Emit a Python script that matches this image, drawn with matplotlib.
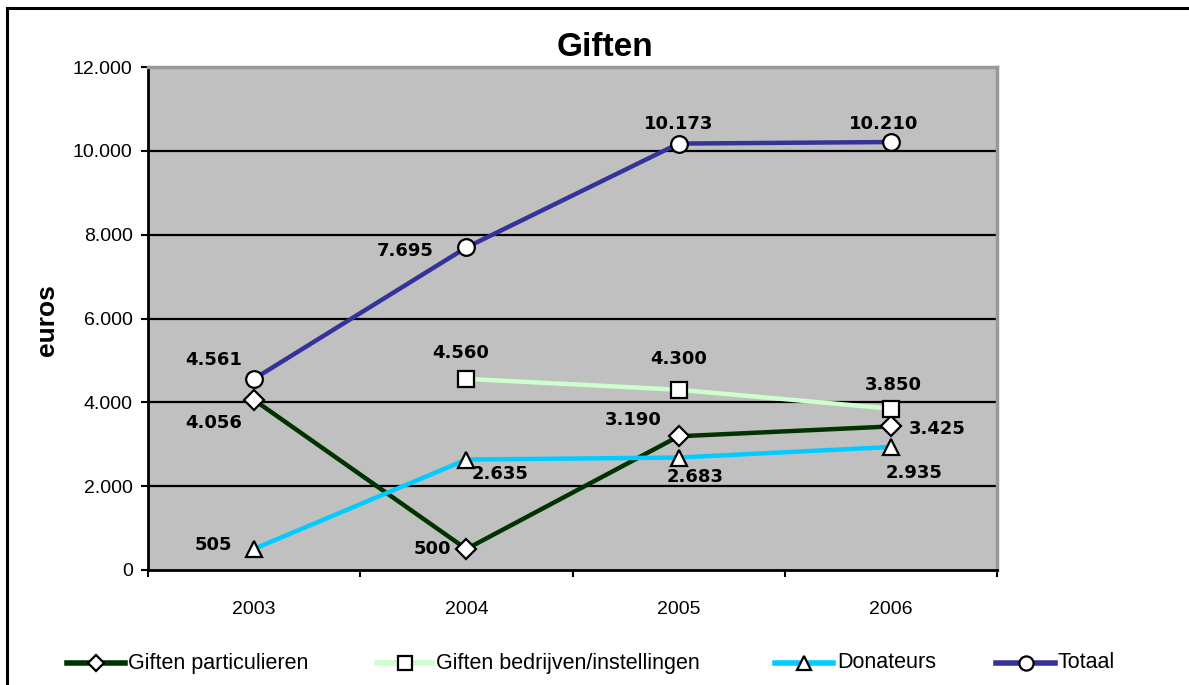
import numpy as np
import matplotlib
matplotlib.use("Agg")
import matplotlib.pyplot as plt
from matplotlib.lines import Line2D
from matplotlib.ticker import FuncFormatter, FixedLocator

years = ["2003", "2004", "2005", "2006"]
particulieren = [4056, 500, 3190, 3425]
bedrijven = [np.nan, 4560, 4300, 3850]
donateurs = [505, 2635, 2683, 2935]
totaal = [4561, 7695, 10173, 10210]

series_names = ["Giften particulieren", "Giften bedrijven/instellingen", "Donateurs", "Totaal"]
colors = ["#003300", "#CCFFCC", "#00CCFF", "#333399"]
markers = ["D", "s", "^", "o"]
msizes = [10, 11.5, 12, 12]

# label offsets in pixels (dx, dy) relative to each point
offsets = [
    [(-40, -23), (-34, 0), (-45, 16), (46, -3)],
    [None, (-6, 26), (0, 31), (2, 24)],
    [(-41, 4), (34, -14), (16, -19), (23, -26)],
    [(-40, 19), (-61, -4), (0, 20), (-7, 18)],
]

W, H = 1189, 685
fig = plt.figure(figsize=(W / 100, H / 100), dpi=100)
fig.patch.set_facecolor("white")

ax = fig.add_axes([148 / W, (H - 570) / H, (997 - 148) / W, (570 - 67) / H])
ax.set_facecolor("#C0C0C0")

x = np.arange(len(years))
data = [particulieren, bedrijven, donateurs, totaal]

ax.set_xlim(-0.5, 3.5)
ax.set_ylim(0, 12000)

for yv in range(2000, 12000, 2000):
    ax.axhline(yv, color="black", lw=1.6, zorder=1)

for i, vals in enumerate(data):
    ax.plot(x, vals, color=colors[i], lw=3.2, zorder=2 + i,
            marker=markers[i], markersize=msizes[i], markerfacecolor="white",
            markeredgecolor="black", markeredgewidth=1.6)

def fmt(v):
    return f"{int(v):,}".replace(",", ".")

for i, vals in enumerate(data):
    for j, v in enumerate(vals):
        if np.isnan(v):
            continue
        dx, dy = offsets[i][j]
        ax.annotate(fmt(v), (x[j], v), xytext=(dx, dy), textcoords="offset pixels",
                    ha="center", va="center", fontsize=13, fontweight="bold",
                    family="DejaVu Sans", color="black", zorder=10)

# axes formatting
ax.yaxis.set_major_locator(FixedLocator(range(0, 12001, 2000)))
ax.yaxis.set_major_formatter(FuncFormatter(lambda v, p: fmt(v)))
ax.tick_params(axis="y", direction="out", length=5, width=1.5, pad=6,
               labelsize=14, labelfontfamily="Liberation Sans")
ax.set_xticks(x)
ax.set_xticklabels(years)
ax.set_xticks(np.arange(-0.5, 3.6, 1.0), minor=True)
ax.tick_params(axis="x", which="major", length=0, pad=22,
               labelsize=14, labelfontfamily="Liberation Sans")
ax.tick_params(axis="x", which="minor", direction="out", length=5, width=1.5)

for s in ["left", "bottom"]:
    ax.spines[s].set_color("black")
    ax.spines[s].set_linewidth(2)
for s in ["top", "right"]:
    ax.spines[s].set_color("#999999")
    ax.spines[s].set_linewidth(2.5)

fig.text(605 / W, 1 - 47 / H, "Giften", ha="center", va="center",
         fontsize=24, fontweight="bold", family="Liberation Sans")
fig.text(47 / W, 1 - 320 / H, "euros", ha="center", va="center", rotation=90,
         fontsize=19, fontweight="bold", family="Liberation Sans")

# outer frame (top and left edges visible)
fig.add_artist(Line2D([7 / W, 7 / W], [-0.05, 1 - 8 / H], transform=fig.transFigure,
                      color="black", lw=2.2))
fig.add_artist(Line2D([7 / W, 1.05], [1 - 8 / H, 1 - 8 / H], transform=fig.transFigure,
                      color="black", lw=2.2))

# legend
leg_y = 1 - 663 / H
handle_x = [(67, 125), (377, 432), (775, 833), (996, 1055)]
text_x = [128, 436, 837, 1057]
for i in range(4):
    x0, x1 = handle_x[i]
    fig.add_artist(Line2D([x0 / W, x1 / W], [leg_y, leg_y], transform=fig.transFigure,
                          color=colors[i], lw=4))
    fig.add_artist(Line2D([(x0 + x1) / 2 / W], [leg_y], transform=fig.transFigure,
                          marker=markers[i], markersize=msizes[i] * 0.85, markerfacecolor="white",
                          markeredgecolor="black", markeredgewidth=1.6, linestyle="none"))
    fig.text(text_x[i] / W, leg_y, series_names[i], ha="left", va="center",
             fontsize=15.5, family="Liberation Sans")

fig.savefig("out.png", dpi=100)
